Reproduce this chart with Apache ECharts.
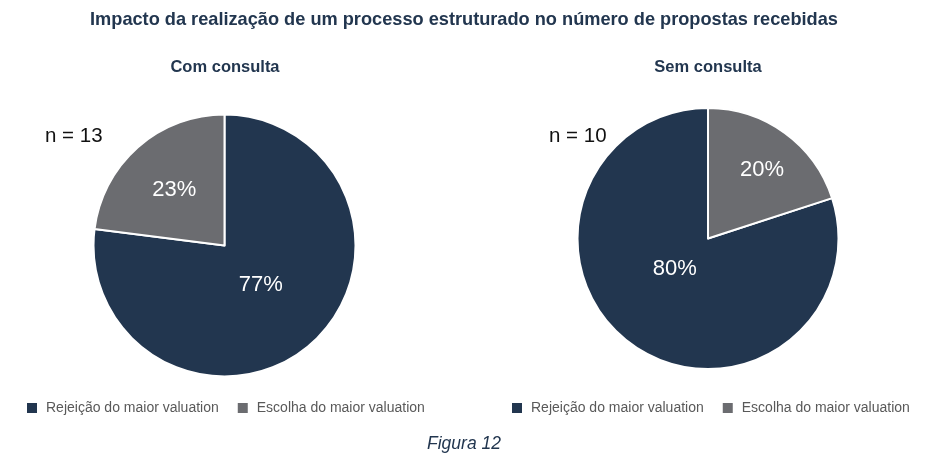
<!DOCTYPE html>
<html><head><meta charset="utf-8">
<script src="https://cdn.jsdelivr.net/npm/echarts@6/dist/echarts.min.js"></script>
<style>html,body{margin:0;padding:0;background:#fff}#c{width:928px;height:474px}</style>
</head><body><div id="c"></div>
<script>
var categories = ['Rejeição do maior valuation', 'Escolha do maior valuation'];
var comConsulta = [77, 23];
var semConsulta = [80, 20];
var nCom = 'n = 13';
var nSem = 'n = 10';
var colors = ['#22364F', '#6B6C70'];

var chart = echarts.init(document.getElementById('c'));
var font = 'Liberation Sans, Arial, sans-serif';
function pieData(vals){ return categories.map(function(c,i){ return {name:c, value:vals[i], itemStyle:{color:colors[i]}}; }); }
var offsLeft = [[-9,-12],[-5,-4]];
var offsRight = [[7,-25],[14,-13]];
var legendText = {fontFamily:font, fontSize:14, color:'#595959', padding:[0,0,0,3]};
chart.setOption({
  animation:false,
  title:[
    {text:'Impacto da realização de um processo estruturado no número de propostas recebidas', left:'center', top:6, textStyle:{fontFamily:font, fontSize:18.2, fontWeight:'bold', color:'#22364F'}},
    {text:'Com consulta', left:220, textAlign:'center', top:54, textStyle:{fontFamily:font, fontSize:16.5, fontWeight:'bold', color:'#22364F'}},
    {text:'Sem consulta', left:703, textAlign:'center', top:54, textStyle:{fontFamily:font, fontSize:16.5, fontWeight:'bold', color:'#22364F'}},
    {text:nCom, left:40, top:121, textStyle:{fontFamily:font, fontSize:20.5, fontWeight:'normal', color:'#111'}},
    {text:nSem, left:544, top:121, textStyle:{fontFamily:font, fontSize:20.5, fontWeight:'normal', color:'#111'}},
    {text:'Figura 12', left:'center', top:430, textStyle:{fontFamily:font, fontSize:17.5, fontWeight:'normal', fontStyle:'italic', color:'#22364F'}}
  ],
  legend:[
    {data:categories, left:25, top:401, padding:0, itemWidth:12, itemHeight:12, itemGap:17, icon:'rect', selectedMode:false, textStyle:legendText},
    {data:categories, left:510, top:401, padding:0, itemWidth:12, itemHeight:12, itemGap:17, icon:'rect', selectedMode:false, textStyle:legendText}
  ],
  series:[
    {type:'pie', center:[224.5,245.5], radius:[0,131], startAngle:90, clockwise:true,
     itemStyle:{borderColor:'#fff', borderWidth:2}, emphasis:{disabled:true},
     label:{show:true, position:'inside', formatter:'{c}%', color:'#fff', fontFamily:font, fontSize:22},
     labelLine:{show:false},
     labelLayout:function(p){ var o=offsLeft[p.dataIndex]; return {dx:o[0], dy:o[1]}; },
     data:pieData(comConsulta)},
    {type:'pie', center:[708,238.5], radius:[0,130.5], startAngle:90, clockwise:false,
     itemStyle:{borderColor:'#fff', borderWidth:2}, emphasis:{disabled:true},
     label:{show:true, position:'inside', formatter:'{c}%', color:'#fff', fontFamily:font, fontSize:22},
     labelLine:{show:false},
     labelLayout:function(p){ var o=offsRight[p.dataIndex]; return {dx:o[0], dy:o[1]}; },
     data:pieData(semConsulta)}
  ]
});
</script></body></html>
